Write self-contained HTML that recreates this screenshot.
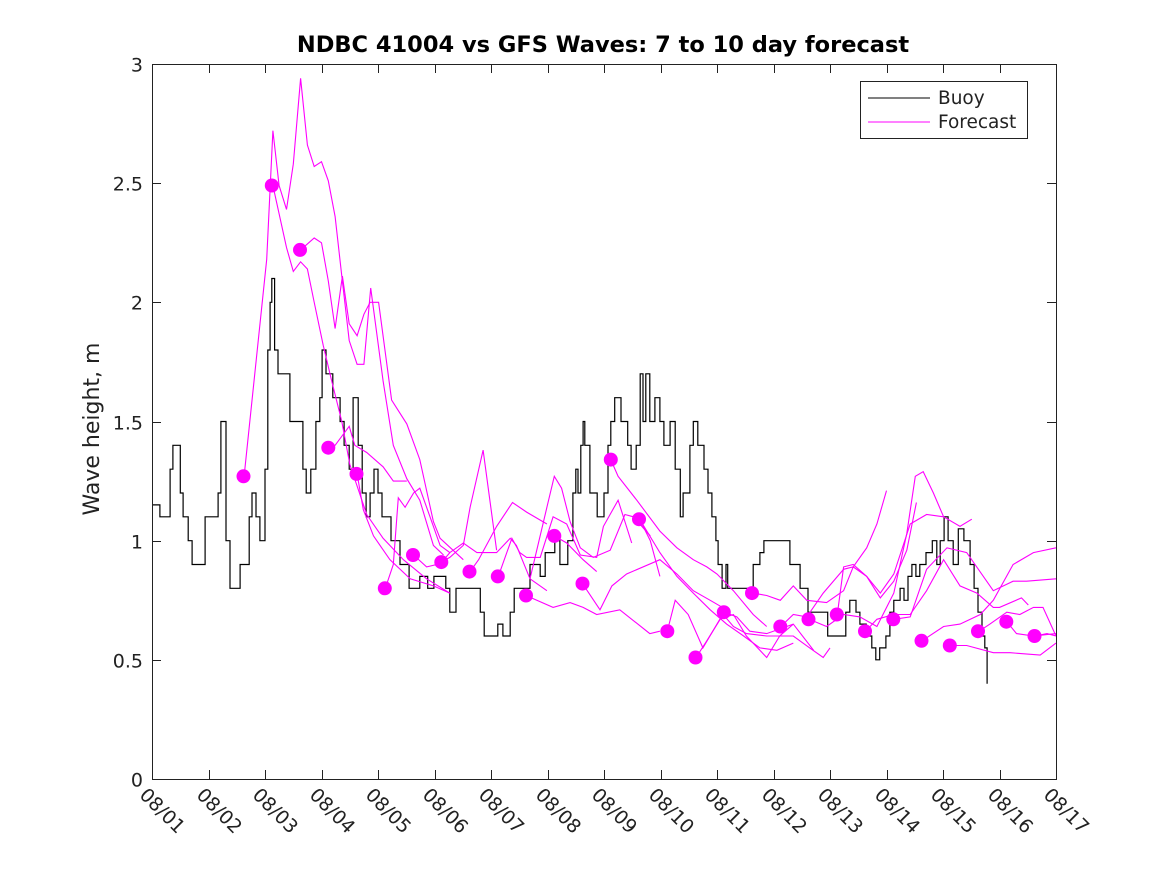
<!DOCTYPE html>
<html><head><meta charset="utf-8"><style>
body{margin:0;background:#fff;}
svg{display:block;font-family:"DejaVu Sans","Liberation Sans",sans-serif;}
</style></head><body>
<svg id="chart" width="1167" height="875" viewBox="0 0 1167 875">
<rect x="0" y="0" width="1167" height="875" fill="#fff"/>
<text x="603" y="52" text-anchor="middle" font-size="22.5" font-weight="bold" fill="#000">NDBC 41004 vs GFS Waves: 7 to 10 day forecast</text>
<text transform="translate(99,429) rotate(-90)" text-anchor="middle" font-size="22" fill="#222">Wave height, m</text>
<g id="grid"></g>
<g id="series"></g>
<rect x="152.5" y="64.5" width="904" height="715" fill="none" stroke="#222" stroke-width="1"/>
<g id="legend">
<rect x="860.5" y="81.5" width="167" height="57" fill="#fff" stroke="#222"/>
<line x1="868" y1="98" x2="930" y2="98" stroke="#000"/>
<text x="938" y="104" font-size="18.5" fill="#222">Buoy</text>
<line x1="868" y1="122" x2="930" y2="122" stroke="#f0f"/>
<text x="938" y="128" font-size="18.5" fill="#222">Forecast</text>
</g>
</svg>
<script>
const xTickLabels=["08/01","08/02","08/03","08/04","08/05","08/06","08/07","08/08","08/09","08/10","08/11","08/12","08/13","08/14","08/15","08/16","08/17"];
const yTicks=[0,0.5,1,1.5,2,2.5,3];
const yTickLabels=["0","0.5","1","1.5","2","2.5","3"];
const buoyDays=[0,0.14,0.32,0.37,0.44,0.50,0.55,0.64,0.71,0.85,0.94,1.12,1.17,1.22,1.31,1.38,1.50,1.56,1.66,1.72,1.77,1.84,1.91,2.00,2.05,2.09,2.12,2.17,2.23,2.35,2.44,2.58,2.67,2.73,2.81,2.90,2.97,3.01,3.08,3.20,3.33,3.40,3.49,3.56,3.65,3.72,3.79,3.86,3.93,4.00,4.07,4.14,4.23,4.34,4.39,4.46,4.55,4.62,4.74,4.88,4.99,5.06,5.20,5.27,5.38,5.63,5.81,5.88,5.98,6.12,6.21,6.34,6.41,6.60,6.69,6.87,6.96,7.13,7.22,7.36,7.45,7.50,7.54,7.59,7.63,7.66,7.75,7.88,8.00,8.07,8.12,8.19,8.30,8.42,8.48,8.57,8.64,8.69,8.74,8.81,8.90,8.99,9.06,9.17,9.26,9.35,9.40,9.52,9.58,9.66,9.77,9.84,9.91,9.98,10.02,10.09,10.16,10.19,10.50,10.64,10.76,10.83,11.29,11.47,11.61,11.93,11.96,12.18,12.28,12.35,12.46,12.53,12.64,12.74,12.81,12.88,12.99,13.06,13.13,13.24,13.31,13.38,13.45,13.52,13.59,13.70,13.81,13.89,13.95,14.02,14.09,14.18,14.27,14.37,14.48,14.55,14.62,14.69,14.74,14.78];
const buoyVals=[1.15,1.1,1.3,1.4,1.4,1.2,1.1,1.0,0.9,0.9,1.1,1.1,1.2,1.5,1.0,0.8,0.8,0.9,0.9,1.1,1.2,1.1,1.0,1.3,1.8,2.0,2.1,1.8,1.7,1.7,1.5,1.5,1.3,1.2,1.3,1.5,1.6,1.8,1.7,1.6,1.5,1.4,1.3,1.6,1.4,1.2,1.1,1.2,1.3,1.2,1.1,1.1,1.0,1.0,0.9,0.9,0.8,0.8,0.85,0.8,0.85,0.85,0.8,0.7,0.8,0.8,0.7,0.6,0.6,0.65,0.6,0.7,0.8,0.8,0.9,0.85,0.95,1.0,0.9,1.0,1.2,1.3,1.2,1.4,1.5,1.4,1.2,1.1,1.2,1.4,1.5,1.6,1.5,1.4,1.3,1.4,1.7,1.5,1.7,1.5,1.6,1.5,1.4,1.5,1.3,1.1,1.2,1.4,1.5,1.4,1.3,1.2,1.1,1.0,0.9,0.8,0.9,0.8,0.8,0.9,0.95,1.0,0.9,0.8,0.7,0.7,0.6,0.6,0.7,0.75,0.7,0.65,0.6,0.55,0.5,0.55,0.6,0.7,0.75,0.8,0.75,0.85,0.9,0.85,0.9,0.95,1.0,0.9,1.0,1.1,1.0,0.9,1.05,1.0,0.9,0.8,0.7,0.6,0.55,0.4];
const dotStart=1.62;
const dotStep=0.5;
const dotVals=[1.27,2.49,2.22,1.39,1.28,0.80,0.94,0.91,0.87,0.85,0.77,1.02,0.82,1.34,1.09,0.62,0.51,0.70,0.78,0.64,0.67,0.69,0.62,0.67,0.58,0.56,0.62,0.66,0.60];
const fcDays=[
[1.63,2.03,2.14,2.25,2.38,2.50,2.63,2.75,2.87,3.00,3.12,3.24,3.36,3.49,3.63,3.75,3.87,4.09,4.27,4.51,4.74,4.98,5.16],
[2.14,2.38,2.50,2.63,2.75,2.87,3.03,3.18,3.36,3.50,3.80,4.09,4.45,4.86,5.27],
[2.63,2.87,3.00,3.12,3.24,3.37,3.49,3.63,3.75,3.86,4.01,4.24,4.51,4.74,4.98,5.10,5.51],
[3.13,3.24,3.49,3.59,3.80,4.09,4.27,4.51],
[3.63,3.74,3.92,4.21,4.57,4.98,5.27],
[4.13,4.27,4.36,4.48,4.63,4.74,4.92,5.10,5.27],
[4.63,4.86,5.04,5.27,5.51,5.63,5.86,6.10],
[5.13,5.27,5.51,5.75,6.10,6.34,6.45,6.69,6.99],
[6.69,6.99,7.12,7.25,7.40,7.58,7.81,8.11,8.37,8.52,8.82],
[5.63,5.78,6.10,6.38,6.63,6.99],
[6.13,6.37,6.51,6.63,6.87,7.10,7.34,7.58,7.87,7.99,8.25,8.49],
[6.62,7.10,7.40,7.63,7.87,8.28,8.81,8.99],
[7.12,7.34,7.63,7.87],
[7.62,7.93,8.14,8.40,8.99,9.29,9.58,9.88,10.17],
[8.12,8.25,8.58,8.99,9.29,9.58,9.82,10.0,10.29,10.64,10.88],
[8.63,8.99,9.29,9.58,9.88,10.17,10.47,10.76,11.06,11.35],
[8.63,8.82,8.99],
[9.12,9.26,9.49,9.75,10.05,10.29,10.52,10.88,11.11,11.35],
[9.63,9.82,10.11,10.29,10.52,10.88,11.35,11.64,11.88,12.0],
[10.13,10.35,10.58,10.88,11.35,11.71],
[10.63,10.88,11.12,11.35,11.59,11.94,12.24,12.41,12.65,12.83,13.0],
[11.13,11.35,11.59,11.88,12.24,12.41,12.65,12.89,13.13,13.36,13.53],
[11.63,11.94,12.24,12.53,12.83,13.13,13.36,13.51,13.65,13.83,14.01],
[12.13,12.24,12.41,12.65,12.89,13.13,13.42,13.71,14.01,14.30,14.51],
[12.63,12.83,13.13,13.42,13.71,14.01,14.30,14.60,14.89,15.0,15.39,15.51],
[13.13,13.42,13.71,14.07,14.42,14.89,15.24,15.48,16.0],
[13.63,14.01,14.30,14.66,14.89,15.24,15.60,16.0],
[14.14,14.42,14.89,15.19,15.72,16.0],
[14.64,14.83,15.13,15.36,15.60,15.77,16.0],
[15.13,15.30,15.60,16.0],
[15.63,15.84,16.0]
];
const fcVals=[
[1.27,2.18,2.72,2.49,2.39,2.58,2.94,2.66,2.57,2.59,2.51,2.36,2.11,1.84,1.74,1.74,2.06,1.67,1.40,1.26,1.17,0.98,0.94],
[2.49,2.23,2.13,2.17,2.14,2.0,1.82,1.67,1.50,1.32,1.11,1.01,0.92,0.84,0.78],
[2.22,2.27,2.25,2.09,1.89,2.11,1.91,1.86,1.95,2.0,2.0,1.59,1.49,1.34,1.08,1.01,0.92],
[1.39,1.40,1.48,1.40,1.37,1.31,1.25,1.25],
[1.28,1.13,1.02,0.92,0.84,0.81,0.78],
[0.80,0.90,1.18,1.14,1.20,1.22,1.10,0.98,0.95],
[0.94,0.89,0.90,0.93,0.98,1.14,1.38,0.96],
[0.91,0.95,0.99,0.95,0.95,1.01,0.98,0.84,0.79],
[0.84,1.14,1.27,1.22,1.08,0.97,0.93,0.96,1.11,1.10,1.02],
[0.87,0.92,1.06,1.16,1.12,1.07],
[0.85,1.01,0.95,0.93,0.93,1.10,1.07,0.94,0.93,1.06,1.17,0.99],
[0.77,0.72,0.74,0.72,0.69,0.71,0.61,0.62],
[1.02,0.99,0.92,0.87],
[0.82,0.71,0.81,0.86,0.92,0.86,0.79,0.75,0.71],
[1.34,1.27,1.17,1.04,0.97,0.92,0.89,0.86,0.79,0.69,0.64],
[1.09,0.95,0.85,0.78,0.71,0.65,0.60,0.55,0.54,0.57],
[1.09,1.0,0.85],
[0.62,0.75,0.69,0.55,0.67,0.69,0.60,0.51,0.60,0.65],
[0.51,0.58,0.69,0.64,0.61,0.60,0.60,0.55,0.51,0.55],
[0.70,0.68,0.62,0.61,0.65,0.54],
[0.78,0.77,0.75,0.81,0.75,0.74,0.79,0.89,0.97,1.07,1.21],
[0.64,0.69,0.68,0.78,0.88,0.89,0.85,0.76,0.83,0.96,1.16],
[0.67,0.64,0.69,0.68,0.64,0.78,1.03,1.27,1.29,1.20,1.10],
[0.69,0.89,0.90,0.85,0.78,0.86,1.07,1.11,1.10,1.06,1.09],
[0.62,0.67,0.69,0.69,0.79,0.92,0.81,0.78,0.72,0.72,0.76,0.73],
[0.67,0.68,0.88,0.97,0.95,0.79,0.83,0.83,0.84],
[0.58,0.64,0.65,0.69,0.75,0.90,0.95,0.97],
[0.56,0.56,0.53,0.53,0.52,0.57],
[0.62,0.65,0.70,0.69,0.72,0.72,0.60],
[0.66,0.61,0.60,0.61],
[0.60,0.61,0.60]
];
const NS="http://www.w3.org/2000/svg";
const X0=152,X1=1056,Y0=779,Y1=64,DMAX=16,VMAX=3;
function xs(d){return X0+(X1-X0)*d/DMAX;}
function ys(v){return Y0-(Y0-Y1)*v/VMAX;}
function mk(tag,attrs,parent){const e=document.createElementNS(NS,tag);for(const k in attrs)e.setAttribute(k,attrs[k]);parent.appendChild(e);return e;}
const grid=document.getElementById('grid');
const ser=document.getElementById('series');
xTickLabels.forEach((lab,i)=>{
  const x=Math.round(xs(i))+0.5;
  const t1=mk('line',{x1:x,y1:779,x2:x,y2:770,stroke:'#222'},grid);
  
  
  const t2=mk('line',{x1:x,y1:64,x2:x,y2:73,stroke:'#222'},grid);
  
  
  const tx=mk('text',{transform:`translate(${x-14},${796}) rotate(45)`,'font-size':19,fill:'#222'},grid);
  tx.textContent=lab;
  
  
});
yTicks.forEach((v,i)=>{
  const y=Math.round(ys(v))+0.5;
  const t1=mk('line',{x1:152,y1:y,x2:161,y2:y,stroke:'#222'},grid);
  
  
  const t2=mk('line',{x1:1056,y1:y,x2:1047,y2:y,stroke:'#222'},grid);
  
  
  const tx=mk('text',{x:143,y:y+7,'text-anchor':'end','font-size':19,fill:'#222'},grid);
  tx.textContent=yTickLabels[i];
  
  
});
let p=`M${xs(buoyDays[0]).toFixed(1)},${ys(buoyVals[0]).toFixed(1)}`;
for(let i=1;i<buoyDays.length;i++){p+=` L${xs(buoyDays[i]).toFixed(1)},${ys(buoyVals[i-1]).toFixed(1)} L${xs(buoyDays[i]).toFixed(1)},${ys(buoyVals[i]).toFixed(1)}`;}
const bl=mk('path',{d:p,fill:'none',stroke:'#000','stroke-width':1.2},ser);


const clip=mk('clipPath',{id:'pc'},ser);
mk('rect',{x:152,y:64,width:904,height:715},clip);
const fg=mk('g',{'clip-path':'url(#pc)'},ser);
fcDays.forEach((ds,k)=>{
  const pts=ds.map((d,i)=>xs(d).toFixed(1)+','+ys(fcVals[k][i]).toFixed(1)).join(' ');
  const pl=mk('polyline',{points:pts,fill:'none',stroke:'#f0f','stroke-width':1.1},fg);
  
  
});
dotVals.forEach((v,i)=>{
  const c=mk('circle',{cx:xs(dotStart+dotStep*i).toFixed(1),cy:ys(v).toFixed(1),r:7,fill:'#f0f'},ser);
  
  
});
</script>
</body></html>
